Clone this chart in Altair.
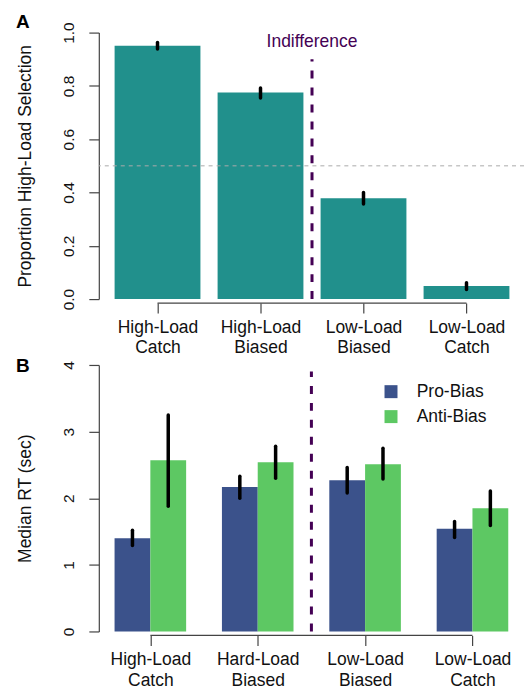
import altair as alt
import pandas as pd

FONT = "Liberation Sans"

# ---------------- Panel A data ----------------
labels_a = [["High-Load", "Catch"], ["High-Load", "Biased"],
            ["Low-Load", "Biased"], ["Low-Load", "Catch"]]
prop = [0.951, 0.775, 0.378, 0.049]
prop_lo = [0.938, 0.755, 0.357, 0.036]
prop_hi = [0.963, 0.792, 0.400, 0.061]
yticks_a = [0.0, 0.2, 0.4, 0.6, 0.8, 1.0]

# ---------------- Panel B data ----------------
labels_b = [["High-Load", "Catch"], ["Hard-Load", "Biased"],
            ["Low-Load", "Biased"], ["Low-Load", "Catch"]]
series = ["Pro-Bias", "Anti-Bias"]
rt_pro = [1.40, 2.17, 2.27, 1.54]
rt_pro_lo = [1.29, 2.00, 2.08, 1.41]
rt_pro_hi = [1.52, 2.33, 2.46, 1.65]
rt_anti = [2.57, 2.54, 2.51, 1.85]
rt_anti_lo = [1.88, 2.30, 2.29, 1.59]
rt_anti_hi = [3.25, 2.78, 2.75, 2.11]
yticks_b = [0, 1, 2, 3, 4]

TEAL = "#21908C"
BLUE = "#3B528B"
GREEN = "#5DC863"
PURPLE = "#440154"
AXC = "#444444"

W = 426
H = 267

# barplot geometry (R style: width 1, space 0.2)
rows_a = []
for i, v in enumerate(prop):
    left = 0.2 + 1.2 * i
    rows_a.append(dict(left=left, right=left + 1, center=left + 0.5,
                       value=v, lo=prop_lo[i], hi=prop_hi[i]))
df_a = pd.DataFrame(rows_a)
centers_a = list(df_a["center"])

# grouped barplot geometry (space = c(0, 1))
rows_b = []
for g in range(4):
    for j, (vals, los, his) in enumerate([(rt_pro, rt_pro_lo, rt_pro_hi),
                                          (rt_anti, rt_anti_lo, rt_anti_hi)]):
        left = 1 + 3 * g + j
        rows_b.append(dict(left=left, right=left + 1, center=left + 0.5,
                           series=series[j], value=vals[g], lo=los[g], hi=his[g]))
df_b = pd.DataFrame(rows_b)
centers_b = [2 + 3 * g for g in range(4)]


def label_expr(labels, first, step):
    arr = "[" + ",".join("['%s','%s']" % (a, b) for a, b in labels) + "]"
    return "%s[round((datum.value - %g) / %g)]" % (arr, first, step)


def x_axis(values, labels, first, step):
    return alt.Axis(values=values, labelExpr=label_expr(labels, first, step),
                    domain=False, tickSize=10, offset=4, title=None, grid=False,
                    labelFontSize=17.5, labelLineHeight=21, labelPadding=5,
                    labelColor="#111111", tickColor=AXC, tickWidth=1.2,
                    labelFlush=False, labelOverlap=False)


def y_axis(values, fmt, title):
    return alt.Axis(values=values, format=fmt, title=title, grid=False,
                    labelAngle=270, labelAlign="center", labelBaseline="bottom",
                    tickSize=10, labelPadding=12, labelFontSize=15.5,
                    titleFontSize=17.5, titleFontWeight="normal", titlePadding=27,
                    labelColor="#111111", titleColor="#111111",
                    domainColor=AXC, tickColor=AXC, domainWidth=1.2, tickWidth=1.2)


xs_a = alt.Scale(domain=[0.016, 4.97], nice=False, zero=False)
ys_a = alt.Scale(domain=[0, 1], nice=False)

base_a = alt.Chart(df_a)
bars_a = base_a.mark_rect(color=TEAL).encode(
    x=alt.X("left:Q", scale=xs_a, axis=x_axis(centers_a, labels_a, 0.7, 1.2)),
    x2="right:Q",
    y=alt.Y("value:Q", scale=ys_a, axis=y_axis(yticks_a, ".1f", "Proportion High-Load Selection")),
    y2=alt.datum(0),
)
err_a = base_a.mark_rule(color="black", strokeWidth=3.5, strokeCap="round").encode(
    x="center:Q", y="lo:Q", y2="hi:Q")
half_a = alt.Chart(pd.DataFrame({"v": [0.5]})).mark_rule(
    color="#AAAAAA", strokeWidth=1, strokeDash=[4, 4]).encode(y="v:Q")
indiff_a = alt.Chart(pd.DataFrame({"x": [2.5], "y0": [0.0], "y1": [0.9]})).mark_rule(
    color=PURPLE, strokeWidth=3, strokeDash=[8, 9]).encode(x="x:Q", y="y0:Q", y2="y1:Q")
indiff_txt = alt.Chart(pd.DataFrame({"x": [2.5], "y": [0.966], "t": ["Indifference"]})).mark_text(
    color=PURPLE, fontSize=17.5, baseline="middle", align="center", font=FONT).encode(
    x="x:Q", y="y:Q", text="t:N")
axline_a = alt.Chart(pd.DataFrame({"a": [centers_a[0]], "b": [centers_a[-1]]})).mark_rule(
    color=AXC, strokeWidth=1.2).encode(x="a:Q", x2="b:Q", y=alt.value(H + 4))
letter_a = alt.Chart(pd.DataFrame({"t": ["A"]})).mark_text(
    fontSize=19, fontWeight="bold", align="left", baseline="alphabetic", font=FONT,
    color="black").encode(text="t:N", x=alt.value(-83), y=alt.value(-5))

panel_a = alt.layer(bars_a, half_a, indiff_a, err_a, indiff_txt, axline_a, letter_a).properties(
    width=W, height=H)

# ---------------- Panel B ----------------
xs_b = alt.Scale(domain=[0.56, 12.44], nice=False, zero=False)
ys_b = alt.Scale(domain=[0, 4], nice=False)

base_b = alt.Chart(df_b)
bars_b = base_b.mark_rect().encode(
    x=alt.X("left:Q", scale=xs_b, axis=x_axis(centers_b, labels_b, 2, 3)),
    x2="right:Q",
    y=alt.Y("value:Q", scale=ys_b, axis=y_axis(yticks_b, "d", "Median RT (sec)")),
    y2=alt.datum(0),
    color=alt.Color("series:N", scale=alt.Scale(domain=series, range=[BLUE, GREEN]),
                    legend=alt.Legend(orient="none", legendX=284, legendY=18, title=None,
                                      symbolType="square", symbolSize=169,
                                      symbolStrokeWidth=0, labelFontSize=17.5,
                                      labelOffset=17, rowPadding=6, padding=0,
                                      labelColor="#111111", labelFont=FONT)),
)
err_b = base_b.mark_rule(color="black", strokeWidth=3.5, strokeCap="round").encode(
    x="center:Q", y="lo:Q", y2="hi:Q")
indiff_b = alt.Chart(pd.DataFrame({"x": [6.5], "y0": [0.0], "y1": [3.9]})).mark_rule(
    color=PURPLE, strokeWidth=3, strokeDash=[8, 9]).encode(x="x:Q", y="y0:Q", y2="y1:Q")
axline_b = alt.Chart(pd.DataFrame({"a": [centers_b[0]], "b": [centers_b[-1]]})).mark_rule(
    color=AXC, strokeWidth=1.2).encode(x="a:Q", x2="b:Q", y=alt.value(H + 4))
letter_b = alt.Chart(pd.DataFrame({"t": ["B"]})).mark_text(
    fontSize=19, fontWeight="bold", align="left", baseline="alphabetic", font=FONT,
    color="black").encode(text="t:N", x=alt.value(-83), y=alt.value(7))

panel_b = alt.layer(bars_b, indiff_b, err_b, axline_b, letter_b).properties(
    width=W, height=H)

chart = alt.vconcat(panel_a, panel_b, spacing=0).resolve_legend(
    color="independent"
).resolve_scale(color="independent").properties(
    padding={"left": 16, "right": 0, "top": 12, "bottom": 0}
).configure(font=FONT).configure_view(stroke=None)

chart.save("out.html", embed_options={"renderer": "svg", "actions": False})
